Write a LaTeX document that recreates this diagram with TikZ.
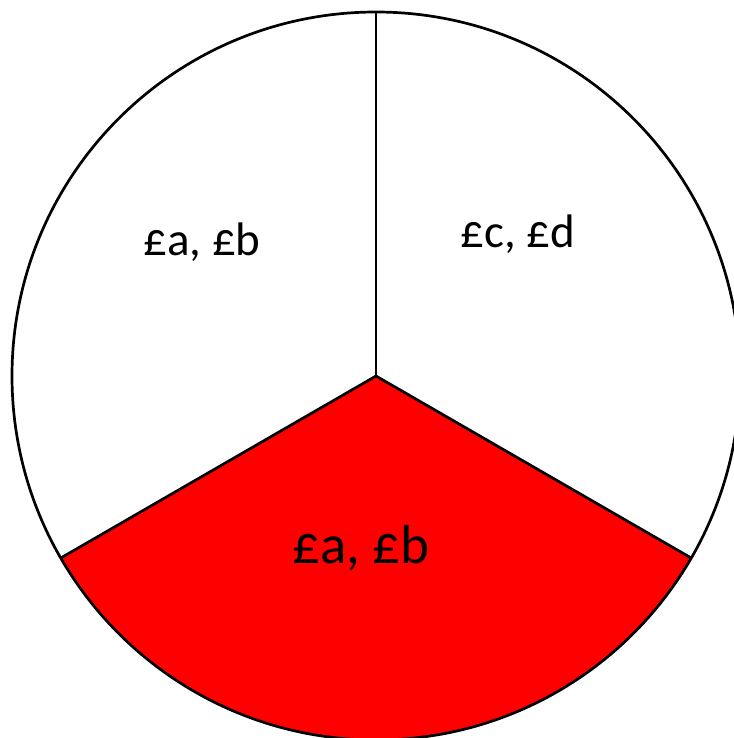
\documentclass[tikz,border=0pt]{standalone}
\usepackage{fontspec}
\setmainfont{Carlito}
\usetikzlibrary{calc}
\begin{document}
\begin{tikzpicture}[x=1pt,y=-1pt,
  edge/.style={draw=black,line width=2.7pt,line join=round},
  lbl/.style={font=\fontsize{47}{50}\selectfont,anchor=base,inner sep=0pt},
  biglbl/.style={font=\fontsize{55}{58}\selectfont,anchor=base,inner sep=0pt}]
\useasboundingbox (0,0) rectangle (733,738);
\coordinate (c) at (376,376);
\def\R{364}
% red sector (angles measured with y pointing down)
\fill[red] (c) -- ($(c)+(150:\R)$) arc[start angle=150,end angle=30,radius=\R] -- cycle;
\draw[edge] (c) circle[radius=\R];
\coordinate (top) at ($(c)+(270:\R)$);
\coordinate (left) at ($(c)+(150:\R)$);
\coordinate (right) at ($(c)+(30:\R)$);
\draw[edge] (c) -- (top);
\draw[edge] (c) -- (left);
\draw[edge] (c) -- (right);
\node[lbl] (tl) at (202,255) {£a, £b};
\node[lbl] (tr) at (518,247) {£c, £d};
\node[biglbl] (bt) at (361,563) {£a, £b};
\end{tikzpicture}
\end{document}
